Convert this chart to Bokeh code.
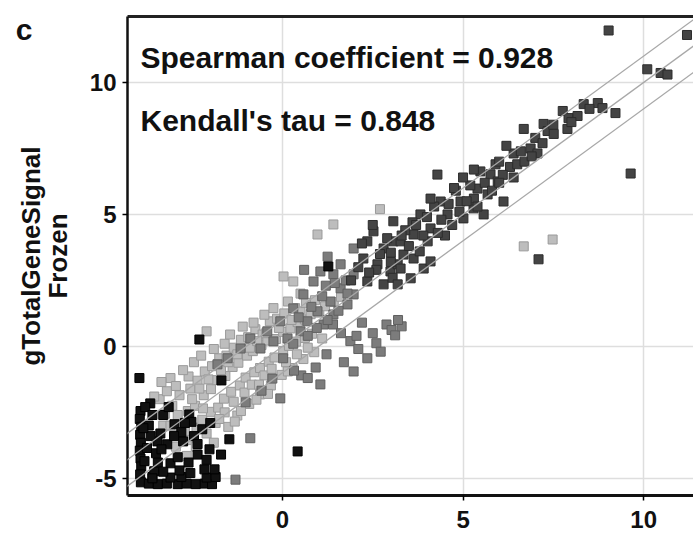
import math
from bokeh.plotting import figure
from bokeh.models import Range1d, LinearAxis, Label, Slope, FixedTicker, ColumnDataSource
from bokeh.embed import file_html
from bokeh.resources import INLINE

# ---- data (log2 signals) ----
x_ticks = [0, 5, 10]
y_ticks = [-5, 0, 5, 10]
ref_offsets = [-1, 0, 1]
spearman_text = "Spearman coefficient = 0.928"
kendall_text = "Kendall's tau = 0.848"
y_label_lines = ["gTotalGeneSignal", "Frozen"]
panel_letter = "c"

light_x = [-3.25, -3.05, -2.85, -2.6, -3.1, -2.55, -2.35, -2.15, -1.95, -1.75, -1.55, -1.35, -1.15, -0.95, -0.75,
           -0.55, -0.35, -0.15, 0.05, 0.35, 0.65, 0.9,
           -3.0, -2.8, -2.62, -2.42, -2.18, -1.98, -1.82, -1.58, -1.38, -1.22, -0.98, -0.82, -0.58, -0.42, -0.18,
           0.02, 0.22, 0.42, 0.62, 0.78, 1.02, 1.18, 1.42, 1.62,
           -2.62, -2.38, -2.22, -1.98, -1.78, -1.62, -1.42, -1.18, -1.02, -0.78, -0.62, -0.38, -0.22, 0.02, 0.18,
           0.38, 0.62, 0.82,
           -1.5, -1.25, -0.92, -0.62, -0.32, -0.02, 0.28, 0.58, 0.88, -1.32, -0.72,
           -2.1, 0.03, 0.3, 0.97, 1.41, 6.68, 7.48, -2.95, -2.7, -3.3, 2.7,
           -3.4, -3.2, -2.95, -2.75, -2.45, -2.25, -1.9, -1.6, -1.45, -1.1, -0.8, -0.5, -0.25, 0.15, 0.5,
           -3.1, -2.9, -2.5, -2.3, -2.05, -1.7, -1.5, -1.25, -0.9, -0.7, -0.45, -0.1, 0.25, 0.5,
           -2.4, -2.1, -1.85, -1.6, -1.35, -1.05, -0.85, -0.5, -0.3, 0.1, 0.4, 0.7, 1.1,
           -3.55, -3.35, -2.2, -1.9, -1.15, -0.65, -2.65, -1.75, -0.4, 0.15]
light_y = [-2.55, -2.25, -1.85, -1.14, -1.2, -1.6, -1.3, -0.95, -0.75, -0.45, -0.35, -0.05, 0.25, 0.35, 0.65,
           0.45, 0.95, 1.05, 1.25, 1.45, 1.65, 1.75,
           -3.35, -2.9, -2.45, -2.25, -1.85, -1.62, -1.28, -1.12, -0.78, -0.62, -0.35, -0.18, 0.05, 0.22, 0.28,
           0.55, 0.68, 0.92, 1.02, 1.22, 1.28, 1.52, 1.68, 1.88,
           -3.55, -3.08, -2.78, -2.48, -2.32, -1.98, -1.72, -1.48, -1.18, -0.98, -0.82, -0.58, -0.42, -0.18, 0.02,
           0.18, 0.32, 0.48,
           -3.05, -2.62, -2.18, -1.82, -1.48, -1.08, -0.82, -0.48, -0.22, -2.85, -2.02,
           0.57, 2.65, 2.46, 4.24, 4.62, 3.79, 4.05, -3.8, -3.2, -3.0, 5.2,
           -2.0, -1.7, -1.5, -0.9, -0.6, -0.35, -0.1, 0.1, 0.45, 0.75, 0.9, 1.2, 1.45, 1.7, 2.0,
           -3.0, -2.6, -2.0, -1.6, -1.25, -0.9, -0.6, -0.3, -0.05, 0.2, 0.5, 0.7, 1.0, 1.3,
           -3.8, -3.3, -2.9, -2.5, -2.1, -1.75, -1.45, -1.1, -0.85, -0.6, -0.3, -0.05, 0.3,
           -1.9, -1.35, -2.35, -3.65, -2.45, -1.45, -4.15, -2.75, -1.8, -0.95]

mid_x = [1.61, 1.33, 1.80, 0.97, 1.41, 0.69, 1.14, 0.50, 0.14, -0.25, -0.61, 0.86, 1.05, 1.41, 0.58, 0.30,
         -0.06, -0.42, -0.89, -1.16, -1.52, -1.8, 1.61, 1.97, 1.97, 1.97, 1.2, 0.6,
         1.4, 1.62, 1.88, 2.35, 1.97, 2.88, 3.02, 3.12, 2.6, 2.72, 3.3, 1.22, 0.92, 0.52, 1.05, 0.02, 0.32,
         -0.28, -0.58, -1.02, -1.3, -0.89, -0.06,
         0.3, 0.7, 0.95, 1.25, 1.55, 1.8, 0.45, 0.8, 1.1, 1.45, 1.75, 1.25, 2.1, 2.5, 2.2, 3.2, 1.7, 2.05, 0.7]
mid_y = [2.2, 1.7, 1.59, 1.33, 1.21, 0.95, 0.83, 0.57, 0.30, 0.19, -0.08, 2.46, 2.84, 2.73, 1.97, 1.44,
         0.95, 0.57, 0.30, -0.08, -0.45, -0.68, 3.11, 3.71, 2.73, 1.97, 2.3, 2.9,
         0.83, 0.5, 0.2, -0.45, -0.95, 0.83, 0.62, 0.42, 0.12, -0.2, 0.76, -0.3, -0.8, -1.1, -1.44, -0.45, -0.92,
         -1.22, -1.68, -2.12, -5.05, -3.48, -1.97,
         0.1, 0.4, 0.7, 1.0, 1.35, 2.0, 1.1, 1.5, 1.9, 2.4, 2.5, 3.4, -0.1, 0.5, 0.9, 1.0, -0.6, 0.4, -1.2]

dark_x = [2.52, 2.80, 3.07, 2.24, 2.63, 2.99, 2.35, 2.80, 2.35, 3.07, 3.19,
          3.82, 4.1, 3.63, 4.02, 3.27, 3.0, 3.35, 3.63, 3.91, 3.27, 3.05, 4.1, 3.55, 3.19,
          4.38, 4.93, 5.29, 5.57, 5.01, 4.57, 4.29,
          5.48, 5.76, 5.96, 6.12, 5.4, 5.68,
          6.4, 6.6, 6.87, 7.06,
          6.68, 7.23, 7.34, 7.51, 7.89,
          7.76, 7.92, 8.17, 8.34, 8.73, 8.86, 9.22,
          10.1, 10.47, 10.66, 11.2, 9.03, 9.64, 7.09,
          4.5, 4.8, 5.2, 4.7, 4.2, 5.9, 6.3, 6.2, 5.3, 3.6, 4.4, 5.0, 6.0, 4.0, 3.4, 2.6, 6.5, 7.0,
          1.9, 2.1, 2.4, 2.7, 2.9, 2.2, 2.5, 3.3, 3.5, 3.8, 3.7, 4.3, 4.6, 4.9, 5.1, 5.4, 5.6, 5.8,
          6.1, 6.4, 6.7, 6.9, 7.2, 7.5, 8.0, 8.5, 4.1, 4.75, 3.9, 3.0, 5.3, 6.0]
dark_y = [4.36, 3.71, 3.98, 3.33, 3.11, 2.84, 2.46, 2.35, 3.98, 4.74, 3.11,
          5.0, 4.47, 4.24, 3.98, 3.98, 3.55, 3.48, 3.33, 2.95, 2.95, 2.6, 3.22, 2.58, 2.35,
          5.49, 5.49, 5.23, 5.0, 4.85, 5.0, 6.51,
          6.63, 6.52, 6.25, 5.49, 5.98, 5.76,
          7.31, 7.39, 7.5, 7.31,
          8.24, 8.43, 8.16, 8.05, 8.24,
          8.92, 8.65, 8.73, 9.18, 9.22, 9.03, 8.84,
          10.5, 10.36, 10.3, 11.8, 11.97, 6.55, 3.3,
          4.2, 5.9, 6.1, 4.6, 5.3, 6.9, 6.8, 7.6, 5.6, 4.7, 4.8, 6.4, 7.0, 4.9, 4.4, 2.9, 6.9, 7.9,
          2.5, 3.0, 2.8, 3.5, 4.1, 3.9, 4.6, 4.2, 3.8, 3.6, 4.6, 4.3, 5.4, 5.1, 5.5, 5.3, 6.2, 5.9,
          6.5, 6.4, 7.0, 7.2, 7.7, 8.4, 8.5, 9.0, 5.6, 6.0, 4.2, 3.2, 6.7, 6.2]

black_x = [-3.93, -3.95, -3.91, -3.94, -3.92, -3.95, -3.93, -3.91, -3.94, -3.92,
           -3.7, -3.45, -3.2, -2.9, -2.65, -2.4, -2.15, -1.95,
           -3.6, -3.1, -2.8, -2.1, -1.85,
           -3.66, -3.38, -2.99, -2.58, -2.52, -2.22, -2.02, -2.35, -3.1, -3.46, -3.19, -1.47, -2.16, -1.88,
           -3.55, -3.82, -3.7, -3.5, -2.75, -2.45, -3.3, -2.6, -2.9, -3.75, -2.8, -1.7,
           -3.96, -2.3, -1.69, 0.42, 1.27,
           -3.8, -3.6, -3.65, -3.45, -3.3, -3.0, -2.7, -2.55, -2.35, -2.1, -3.85, -3.6, -3.35, -2.0, -3.15, -2.85]
black_y = [-2.45, -2.75, -3.05, -3.35, -3.65, -3.95, -4.25, -4.55, -4.85, -5.15,
           -5.2, -5.22, -5.2, -5.22, -5.2, -5.22, -5.2, -5.22,
           -4.95, -4.97, -4.95, -4.97, -4.95,
           -2.16, -3.3, -2.95, -2.58, -2.86, -3.14, -3.9, -4.1, -4.43, -3.6, -3.71, -3.52, -4.66, -4.66,
           -4.73, -4.35, -3.0, -4.05, -3.6, -3.4, -2.6, -4.4, -4.2, -3.85, -3.25, -4.1,
           -1.2, 0.26, -1.29, -3.98, 3.03,
           -2.3, -2.6, -3.4, -4.4, -4.75, -3.4, -2.9, -4.8, -3.7, -4.3, -3.1, -5.0, -3.9, -2.9, -2.3, -4.7]

panel_letter_y = [12.0]

# ---- figure ----
FONT = "Liberation Sans"
INK = "#111111"
p = figure(width=693, height=535,
           x_range=Range1d(-4.29, 11.38), y_range=Range1d(-5.65, 12.5),
           output_backend="svg", toolbar_location=None,
           min_border_left=127, min_border_right=0, min_border_top=16, min_border_bottom=40)
p.outline_line_color = None
p.background_fill_color = "white"
p.border_fill_color = "white"

xa = p.xaxis[0]
ya = p.yaxis[0]
xa.ticker = FixedTicker(ticks=x_ticks)
ya.ticker = FixedTicker(ticks=y_ticks)
ya.major_label_overrides = {t: str(t) for t in y_ticks}
for ax in (xa, ya):
    ax.major_label_text_font = FONT
    ax.major_label_text_font_style = "bold"
    ax.major_label_text_font_size = "24px"
    ax.major_label_text_color = INK
    ax.major_tick_out = 5
    ax.major_tick_in = 0
    ax.major_tick_line_width = 1.5
    ax.minor_tick_out = 0
    ax.minor_tick_in = 0
    ax.axis_line_color = INK
ya.axis_line_width = 2.5
xa.axis_line_width = 3
xa.major_label_standoff = 10
ya.major_label_standoff = 6
ya.axis_label = y_label_lines[1]
ya.axis_label_text_font = FONT
ya.axis_label_text_font_style = "bold"
ya.axis_label_text_font_size = "26px"
ya.axis_label_text_color = INK
ya.axis_label_standoff = 14

# second line of the y title, one panel further out
ya2 = LinearAxis(ticker=FixedTicker(ticks=[]), axis_line_color=None,
                 major_tick_out=0, major_tick_in=0, minor_tick_out=0, minor_tick_in=0,
                 major_label_text_font_size="0px",
                 axis_label=y_label_lines[0], axis_label_text_font=FONT,
                 axis_label_text_font_style="bold", axis_label_text_font_size="26px",
                 axis_label_text_color=INK, axis_label_standoff=-6)
p.add_layout(ya2, "left")

# panel letter, outermost
ya3 = LinearAxis(ticker=FixedTicker(ticks=panel_letter_y), axis_line_color=None,
                 major_tick_out=0, major_tick_in=0, minor_tick_out=0, minor_tick_in=0,
                 major_label_overrides={panel_letter_y[0]: panel_letter},
                 major_label_text_font=FONT, major_label_text_font_style="bold",
                 major_label_text_font_size="30px", major_label_text_color=INK,
                 major_label_standoff=-20)
p.add_layout(ya3, "left")

top = LinearAxis(ticker=FixedTicker(ticks=[]), major_label_text_font_size="0px",
                 major_tick_out=0, major_tick_in=0, minor_tick_out=0, minor_tick_in=0,
                 axis_line_width=3, axis_line_color="#222222")
p.add_layout(top, "above")

p.grid.grid_line_color = "#dedede"
p.grid.grid_line_width = 1.5
p.xgrid.ticker = FixedTicker(ticks=x_ticks)
p.ygrid.ticker = FixedTicker(ticks=y_ticks)

for b in ref_offsets:
    p.add_layout(Slope(gradient=1, y_intercept=b, line_color="#a8a8a8", line_width=1.3))

groups = [
    (light_x, light_y, "#bdbdbd", "#9a9a9a"),
    (mid_x, mid_y, "#7c7c7c", "#606060"),
    (dark_x, dark_y, "#444444", "#2c2c2c"),
    (black_x, black_y, "#111111", "#000000"),
]
for gx, gy, fc, lc in groups:
    src = ColumnDataSource(dict(x=gx, y=gy))
    p.scatter("x", "y", source=src, marker="square", size=9,
              fill_color=fc, line_color=lc, line_width=1)

p.add_layout(Label(x=-3.93, y=10.93, text=spearman_text, text_font=FONT, text_font_style="bold",
                   text_font_size="30px", text_color=INK, text_baseline="alphabetic"))
p.add_layout(Label(x=-3.93, y=8.56, text=kendall_text, text_font=FONT, text_font_style="bold",
                   text_font_size="30px", text_color=INK, text_baseline="alphabetic"))

open("out.html", "w").write(file_html(p, INLINE))
